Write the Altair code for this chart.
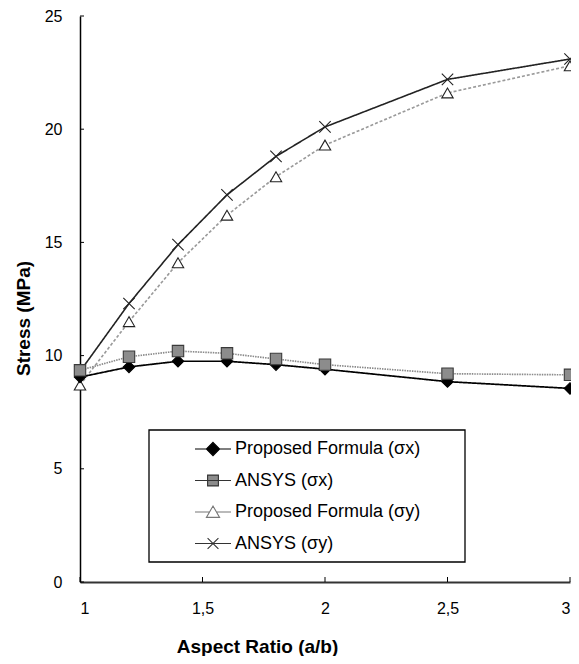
import altair as alt
import pandas as pd

# ---- data ----
aspect_ratio = [1, 1.2, 1.4, 1.6, 1.8, 2, 2.5, 3]
proposed_sx = [9.05, 9.5, 9.75, 9.75, 9.6, 9.4, 8.85, 8.55]
ansys_sx = [9.35, 9.95, 10.2, 10.1, 9.85, 9.6, 9.2, 9.15]
proposed_sy = [8.7, 11.5, 14.1, 16.2, 17.9, 19.3, 21.6, 22.8]
ansys_sy = [9.3, 12.3, 14.9, 17.1, 18.8, 20.1, 22.2, 23.1]
series_names = ["Proposed Formula (σx)", "ANSYS (σx)", "Proposed Formula (σy)", "ANSYS (σy)"]
x_ticks = [1, 1.5, 2, 2.5, 3]
y_ticks = [0, 5, 10, 15, 20, 25]

FONT = "Liberation Sans"
W, H = 490, 566

rows = []
draw_order = {"Proposed Formula (σy)": 0, "ANSYS (σy)": 1, "Proposed Formula (σx)": 2, "ANSYS (σx)": 3}
for name, vals in zip(series_names, [proposed_sx, ansys_sx, proposed_sy, ansys_sy]):
    for r, v in zip(aspect_ratio, vals):
        rows.append({"series": name, "ratio": r, "stress": v, "z": draw_order[name]})
df = pd.DataFrame(rows).sort_values(["z", "ratio"]).reset_index(drop=True)

xscale = alt.Scale(domain=[1, 3], nice=False, zero=False)
yscale = alt.Scale(domain=[0, 25], nice=False)

xaxis = alt.Axis(values=x_ticks, labelExpr="replace(format(datum.value, '~g'), '.', ',')",
                 title="Aspect Ratio (a/b)", grid=False, ticks=False, tickSize=0,
                 labelPadding=18, labelFontSize=16, labelFont=FONT, labelColor="black",
                 domainColor="#333333", domainWidth=2,
                 titleFont=FONT, titleFontSize=19, titleFontWeight="bold", titleColor="black",
                 titleX=177, titleY=70, titleAlign="center", titleBaseline="alphabetic")
yaxis = alt.Axis(values=y_ticks, title="Stress (MPa)", grid=False, ticks=False, tickSize=0,
                 labelPadding=18, labelFontSize=16, labelFont=FONT, labelColor="black",
                 domainColor="black", domainWidth=1.5,
                 titleFont=FONT, titleFontSize=19, titleFontWeight="bold", titleColor="black",
                 titleX=-57, titleY=302, titleAngle=270, titleAlign="center", titleBaseline="middle")

def sc(rng):
    return alt.Scale(domain=series_names, range=rng)

lines = alt.Chart(df).mark_line().encode(
    x=alt.X("ratio:Q", scale=xscale, axis=xaxis),
    y=alt.Y("stress:Q", scale=yscale, axis=yaxis),
    color=alt.Color("series:N", scale=sc(["#000000", "#8a8a8a", "#9a9a9a", "#222222"]), legend=None),
    strokeDash=alt.StrokeDash("series:N", scale=sc([[1, 0], [1.5, 1], [3, 2], [1, 0]]), legend=None),
    strokeWidth=alt.StrokeWidth("series:N", scale=sc([1.7, 1.6, 1.2, 1.1]), legend=None),
    order=alt.Order("ratio:Q"),
)

points = alt.Chart(df).mark_point(size=130, opacity=1, strokeWidth=1.1).encode(
    x="ratio:Q", y="stress:Q",
    shape=alt.Shape("series:N", scale=sc(["diamond", "square", "triangle-up", "M-1,-1L1,1M-1,1L1,-1"]), legend=None),
    fill=alt.Fill("series:N", scale=sc(["#000000", "#8c8c8c", "#ffffff", "transparent"]), legend=None),
    stroke=alt.Stroke("series:N", scale=sc(["#000000", "#3a3a3a", "#222222", "#222222"]), legend=None),
)

# legend frame (decoration, pixel position inside the plot area)
frame = alt.Chart(pd.DataFrame({"k": [0]})).mark_rect(
    fill="white", stroke="black", strokeWidth=1.3
).encode(x=alt.value(69), x2=alt.value(385), y=alt.value(414), y2=alt.value(546))

leg_paths = [
    "M-3,0H3M0,-1.1L1.1,0L0,1.1L-1.1,0Z",
    "M-3,0H3M-0.9,-0.9H0.9V0.9H-0.9Z",
    "M-3,0H-0.58M0.58,0H3M0,-1L1.1,0.9H-1.1Z",
    "M-3,0H3M-0.9,-0.9L0.9,0.9M-0.9,0.9L0.9,-0.9",
]
legend = alt.Legend(title=None, orient="none", legendX=69, legendY=414, padding=10,
                    symbolSize=144, symbolOffset=45, labelOffset=13, labelFontSize=18,
                    labelFont=FONT, labelColor="black", labelLimit=400, rowPadding=13.5,
                    symbolOpacity=1, symbolStrokeWidth=1.1)

legend_layer = alt.Chart(df).mark_point(size=144, opacity=0, strokeWidth=1.1).encode(
    x="ratio:Q", y="stress:Q",
    shape=alt.Shape("series:N", scale=sc(leg_paths), legend=legend),
    fill=alt.Fill("series:N", scale=sc(["#000000", "#8c8c8c", "#ffffff", "transparent"]), legend=legend),
    stroke=alt.Stroke("series:N", scale=sc(["#000000", "#333333", "#777777", "#333333"]), legend=legend),
)

ytick_df = pd.DataFrame({"v": y_ticks})
xtick_df = pd.DataFrame({"v": x_ticks})
yticks = alt.Chart(ytick_df).mark_rule(color="black", strokeWidth=1).encode(
    y="v:Q", x=alt.value(0), x2=alt.value(4))
xticks = alt.Chart(xtick_df).mark_rule(color="black", strokeWidth=1).encode(
    x="v:Q", y=alt.value(H), y2=alt.value(H - 5))

chart = alt.layer(frame, lines, points, legend_layer, yticks, xticks).resolve_scale(
    shape="independent", fill="independent", stroke="independent"
).properties(
    width=W, height=H,
    autosize=alt.AutoSizeParams(type="none"),
    padding={"left": 72, "top": 8, "right": 1, "bottom": 74},
    background="white",
).configure_view(stroke=None)

chart.save("out.html", embed_options={"renderer": "svg", "actions": False})
